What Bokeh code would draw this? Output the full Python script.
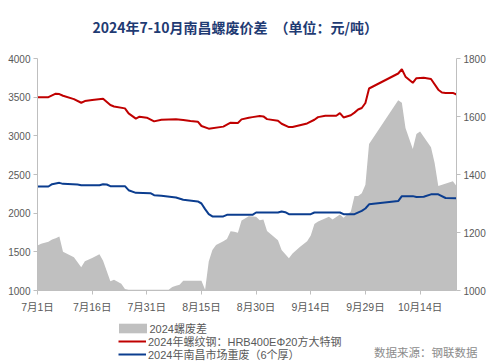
import pandas as pd
from bokeh.plotting import figure
from bokeh.layouts import column
from bokeh.models import Range1d, LinearAxis, FixedTicker, Legend, LegendItem, Label
from bokeh.embed import file_html
from bokeh.resources import INLINE

START = pd.Timestamp("2024-07-01")

def to_day(ds):
    return [(pd.Timestamp("2024-" + d) - START).days for d in ds]

# 2024 rebar price (HRB400E Φ20, Fangda Special Steel), yuan/ton — left axis
rebar_dates = ["07-01", "07-04", "07-06", "07-07", "07-08", "07-11", "07-13", "07-14", "07-16",
               "07-19", "07-21", "07-22", "07-25", "07-26", "07-28", "07-29", "07-31", "08-02",
               "08-04", "08-08", "08-10", "08-12", "08-14", "08-15", "08-17", "08-21", "08-23",
               "08-25", "08-26", "08-28", "08-29", "08-31", "09-01", "09-02", "09-05", "09-06",
               "09-08", "09-09", "09-13", "09-15", "09-16", "09-18", "09-21", "09-22", "09-23",
               "09-25", "09-26", "09-27", "09-28", "09-29", "09-30", "10-08", "10-09", "10-10",
               "10-12", "10-13", "10-15", "10-17", "10-19", "10-20", "10-21", "10-23", "10-24"]
rebar_price = [3500, 3500, 3545, 3540, 3518, 3475, 3428, 3450, 3463,
               3480, 3398, 3380, 3355, 3290, 3222, 3248, 3235, 3187,
               3209, 3213, 3205, 3192, 3183, 3127, 3093, 3119, 3170,
               3166, 3213, 3235, 3242, 3255, 3251, 3216, 3195, 3156,
               3113, 3113, 3160, 3208, 3242, 3260, 3260, 3294, 3238,
               3266, 3300, 3340, 3360, 3425, 3612, 3806, 3861, 3765,
               3685, 3745, 3750, 3735, 3597, 3560, 3555, 3555, 3535]

# 2024 Nanchang heavy scrap (6mm thick), yuan/ton — left axis
scrap_dates = ["07-01", "07-04", "07-05", "07-07", "07-08", "07-12", "07-13", "07-18", "07-19",
               "07-20", "07-21", "07-25", "07-26", "07-28", "08-01", "08-02", "08-04", "08-08",
               "08-10", "08-14", "08-15", "08-16", "08-17", "08-18", "08-21", "08-22", "08-29",
               "08-30", "09-05", "09-06", "09-07", "09-08", "09-14", "09-15", "09-22", "09-23",
               "09-26", "09-28", "09-29", "09-30", "10-08", "10-09", "10-12", "10-13", "10-15",
               "10-17", "10-19", "10-21", "10-24"]
scrap_price = [2345, 2345, 2375, 2392, 2379, 2371, 2362, 2362, 2375,
               2371, 2349, 2349, 2297, 2263, 2259, 2233, 2225, 2203,
               2173, 2151, 2125, 2052, 1988, 1958, 1958, 1979, 1979,
               2009, 2009, 2022, 2013, 1987, 1987, 2009, 2009, 1987,
               1987, 2030, 2060, 2114, 2156, 2220, 2220, 2208, 2212,
               2243, 2243, 2196, 2192]

# 2024 rebar-scrap spread, yuan/ton — right axis
spread_dates = ["07-01", "07-02", "07-04", "07-05", "07-06", "07-07", "07-08", "07-11", "07-13",
                "07-14", "07-16", "07-18", "07-19", "07-21", "07-22", "07-24", "07-25", "07-26",
                "08-06", "08-07", "08-08", "08-09", "08-10", "08-15", "08-16", "08-17", "08-18",
                "08-19", "08-21", "08-22", "08-23", "08-24", "08-25", "08-26", "08-28", "08-30",
                "08-31", "09-01", "09-02", "09-05", "09-06", "09-08", "09-09", "09-11", "09-13",
                "09-14", "09-15", "09-16", "09-19", "09-20", "09-22", "09-23", "09-25", "09-26",
                "09-27", "09-28", "09-29", "09-30", "10-08", "10-09", "10-10", "10-12", "10-13",
                "10-14", "10-17", "10-18", "10-19", "10-23", "10-24"]
spread_value = [1155, 1161, 1168, 1176, 1180, 1186, 1134, 1115, 1080,
                1101, 1112, 1125, 1103, 1032, 1037, 1023, 1005, 1003,
                1003, 1012, 1016, 1020, 1034, 1034, 1003, 1100, 1140,
                1157, 1170, 1178, 1204, 1203, 1199, 1241, 1256, 1254,
                1242, 1245, 1205, 1173, 1140, 1111, 1128, 1150, 1170,
                1190, 1229, 1238, 1254, 1245, 1262, 1251, 1272, 1326,
                1326, 1335, 1365, 1505, 1656, 1647, 1560, 1488, 1540,
                1548, 1494, 1440, 1360, 1377, 1360]

tick_dates = ["07-01", "07-16", "07-31", "08-15", "08-30", "09-14", "09-29", "10-14"]
tick_labels = ["7月1日", "7月16日", "7月31日", "8月15日", "8月30日", "9月14日", "9月29日", "10月14日"]
left_ticks = [1000, 1500, 2000, 2500, 3000, 3500, 4000]
right_ticks = [1000, 1200, 1400, 1600, 1800]

title_text = "2024年7-10月南昌螺废价差\u2002（单位：元/吨）"
legend_labels = ["2024螺废差", "2024年螺纹钢：HRB400EΦ20方大特钢", "2024年南昌市场重废（6个厚）"]
source_text = "数据来源：钢联数据"

FONT = "Liberation Sans, Noto Sans CJK SC"
AX = "#bfbfbf"
TXT = "#595959"
GREY = "#c0c0c0"
RED = "#c00000"
BLUE = "#0b3d8f"


def strip(h):
    f = figure(width=492, height=h, output_backend="svg", toolbar_location=None,
               x_range=Range1d(0, 1), y_range=Range1d(0, 1),
               x_axis_type=None, y_axis_type=None, min_border=0)
    f.min_border_left = f.min_border_right = f.min_border_top = f.min_border_bottom = 0
    f.outline_line_color = None
    f.frame_align = False
    return f


# ---------------- title strip ----------------
t = strip(40)
t.add_layout(Label(x=92, y=13.5, x_units="screen", y_units="screen", text=title_text,
                   text_font="Noto Sans CJK SC", text_font_style="bold", text_font_size="14px",
                   text_color="#1f3b73", text_baseline="middle", text_align="left"))

# ---------------- main chart ----------------
p = figure(width=492, height=275, output_backend="svg", toolbar_location=None,
           x_range=Range1d(0, 115), y_range=Range1d(1000, 4000),
           x_axis_type=None, y_axis_type=None,
           min_border_left=37, min_border_right=36, min_border_top=18, min_border_bottom=25)
p.extra_y_ranges = {"spread": Range1d(1000, 1800)}
p.outline_line_color = None
p.frame_align = False

p.varea(x=to_day(spread_dates), y1=[1000] * len(spread_value), y2=spread_value,
        y_range_name="spread", fill_color=GREY)
p.line(to_day(rebar_dates), rebar_price, line_color=RED, line_width=2)
p.line(to_day(scrap_dates), scrap_price, line_color=BLUE, line_width=2)

xaxis = LinearAxis(ticker=FixedTicker(ticks=to_day(tick_dates), minor_ticks=[]),
                   major_label_overrides=dict(zip(to_day(tick_dates), tick_labels)))
laxis = LinearAxis(ticker=FixedTicker(ticks=left_ticks, minor_ticks=[]))
raxis = LinearAxis(y_range_name="spread", ticker=FixedTicker(ticks=right_ticks, minor_ticks=[]))
for ax, fs, so in ((xaxis, "10.5px", 6), (laxis, "10px", 3), (raxis, "10px", 3)):
    ax.axis_line_color = AX
    ax.major_tick_line_color = AX
    ax.major_tick_in = 0
    ax.major_tick_out = 4
    ax.minor_tick_line_color = None
    ax.major_label_text_color = TXT
    ax.major_label_text_font = FONT
    ax.major_label_text_font_size = fs
    ax.major_label_standoff = so
p.add_layout(xaxis, "below")
p.add_layout(laxis, "left")
p.add_layout(raxis, "right")

# ---------------- legend strip ----------------
q = strip(47)
sw_area = q.varea(x=to_day(spread_dates), y1=[1000] * len(spread_value), y2=spread_value,
                  fill_color=GREY, visible=False)
sw_red = q.line(to_day(rebar_dates), rebar_price, line_color=RED, line_width=2, visible=False)
sw_blue = q.line(to_day(scrap_dates), scrap_price, line_color=BLUE, line_width=2, visible=False)

common = dict(padding=0, margin=0, spacing=0, border_line_color=None, background_fill_alpha=0,
              label_text_font=FONT, label_text_font_size="11px", label_text_color=TXT,
              glyph_height=12, label_height=12, inactive_fill_alpha=0)
leg_a = Legend(items=[LegendItem(label=legend_labels[0], renderers=[sw_area])],
               location=(114.5, 26), glyph_width=35, label_standoff=0, **common)
leg_b = Legend(items=[LegendItem(label=legend_labels[1], renderers=[sw_red])],
               location=(118, 13.5), glyph_width=28, label_standoff=2, **common)
leg_c = Legend(items=[LegendItem(label=legend_labels[2], renderers=[sw_blue])],
               location=(118, 0.5), glyph_width=28, label_standoff=2, **common)
q.add_layout(leg_a)
q.add_layout(leg_b)
q.add_layout(leg_c)
q.add_layout(Label(x=477, y=10.5, x_units="screen", y_units="screen", text=source_text,
                   text_font="Noto Sans CJK SC", text_font_size="11.5px",
                   text_color="#8c8c8c", text_baseline="middle", text_align="right"))

open("out.html", "w").write(file_html(column(t, p, q, spacing=0), INLINE))
